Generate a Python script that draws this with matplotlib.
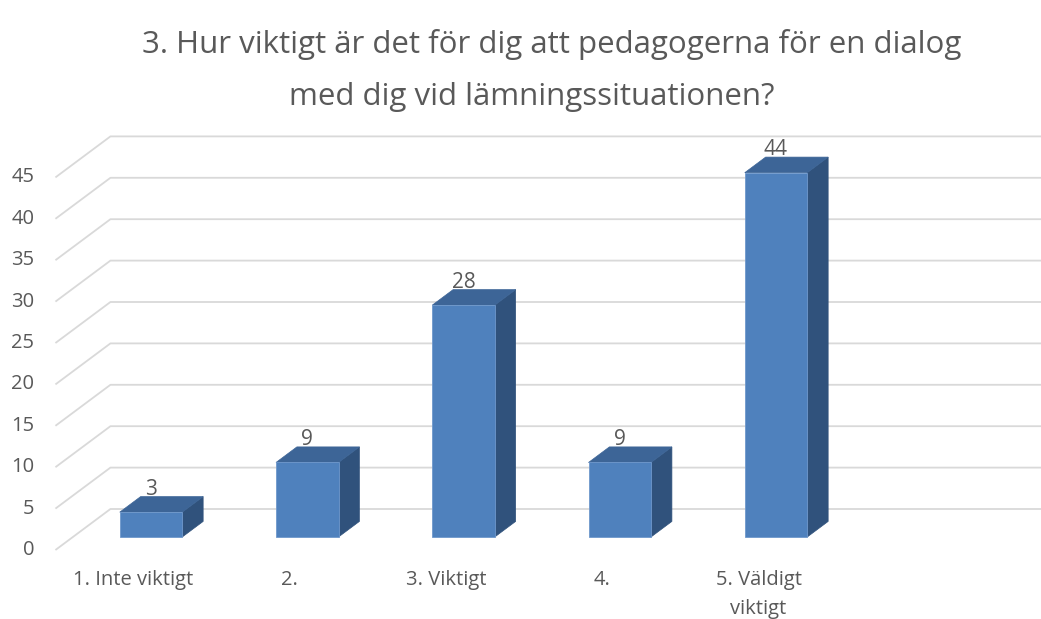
import matplotlib
matplotlib.use("Agg")
import matplotlib.pyplot as plt
from matplotlib.patches import Polygon

# ---- data ----
categories = ["1. Inte viktigt", "2.", "3. Viktigt", "4.", "5. Väldigt\nviktigt"]
values = [3, 9, 28, 9, 44]
yticks = [0, 5, 10, 15, 20, 25, 30, 35, 40, 45]
title_lines = ["3. Hur viktigt är det för dig att pedagogerna för en dialog",
               "med dig vid lämningssituationen?"]

# ---- layout / style ----
W, H = 1041, 619
PX_X, PX_Y = 156.25, 8.28      # pixels per category / per value unit
X0, Y0 = 151, 537              # pixel of category 0, value 0 (bar front plane)
DX, DY = 55 / PX_X, 41 / PX_Y  # oblique depth offset per unit depth
Z_FRONT, Z_WALL, Z_BAR = -0.317, 0.683, 0.38
BW = 0.4
N_SLOTS = 6
TITLE_POS = [(552, 45), (532, 97)]  # pixel centres of the title lines

TEXT = "#595959"
GRID = "#d9d9d9"
FRONT = "#4f81bd"
TOP = "#3d6597"
SIDE = "#30527c"
FONT = "Open Sans"

plt.rcParams["font.family"] = [FONT, "DejaVu Sans"]

fig = plt.figure(figsize=(W / 100, H / 100), dpi=100)
ax = fig.add_axes([0, 0, 1, 1])
ax.set_xlim(-X0 / PX_X, (W - X0) / PX_X)
ax.set_ylim(-(H - Y0) / PX_Y, Y0 / PX_Y)
ax.axis("off")


def proj(x, y, z):
    return (x + z * DX, y + z * DY)


# gridlines (side wall diagonal + back wall)
x_left, x_right = -0.5, N_SLOTS - 0.5
for v in yticks:
    pts = [proj(x_left, v, Z_FRONT), proj(x_left, v, Z_WALL), proj(x_right, v, Z_WALL)]
    ax.plot([p[0] for p in pts], [p[1] for p in pts], color=GRID, lw=1.3,
            solid_capstyle="butt", zorder=1)
    fx, fy = proj(x_left, v, Z_FRONT)
    ax.text(fx - 21 / PX_X, fy, str(v), ha="right", va="center",
            fontsize=14.5, color=TEXT)

# bars
for i, v in enumerate(values):
    l, r = i - BW / 2, i + BW / 2
    side = [proj(r, 0, 0), proj(r, v, 0), proj(r, v, Z_BAR), proj(r, 0, Z_BAR)]
    top = [proj(l, v, 0), proj(r, v, 0), proj(r, v, Z_BAR), proj(l, v, Z_BAR)]
    front = [proj(l, 0, 0), proj(r, 0, 0), proj(r, v, 0), proj(l, v, 0)]
    ax.add_patch(Polygon(side, closed=True, facecolor=SIDE, edgecolor=SIDE, lw=0.5, zorder=3))
    ax.add_patch(Polygon(top, closed=True, facecolor=TOP, edgecolor=TOP, lw=0.5, zorder=3))
    ax.add_patch(Polygon(front, closed=True, facecolor=FRONT, edgecolor="#6f98cc", lw=0.6, zorder=4))
    tx, ty = proj(i, v, Z_BAR)
    ax.text(i, ty + 2 / PX_Y, str(v), ha="center", va="baseline",
            fontsize=15, color=TEXT, zorder=5)

# category labels
for i, c in enumerate(categories):
    cx, cy = proj(i, 0, Z_FRONT)
    ax.text(cx, cy - 20 / PX_Y, c, ha="center", va="top", fontsize=14.5,
            color=TEXT, linespacing=1.6)

# title
for line, (px, py) in zip(title_lines, TITLE_POS):
    ax.text((px - X0) / PX_X, (Y0 - py) / PX_Y, line, ha="center", va="center",
            fontsize=22.5, color=TEXT)

fig.savefig("out.png", dpi=100)
